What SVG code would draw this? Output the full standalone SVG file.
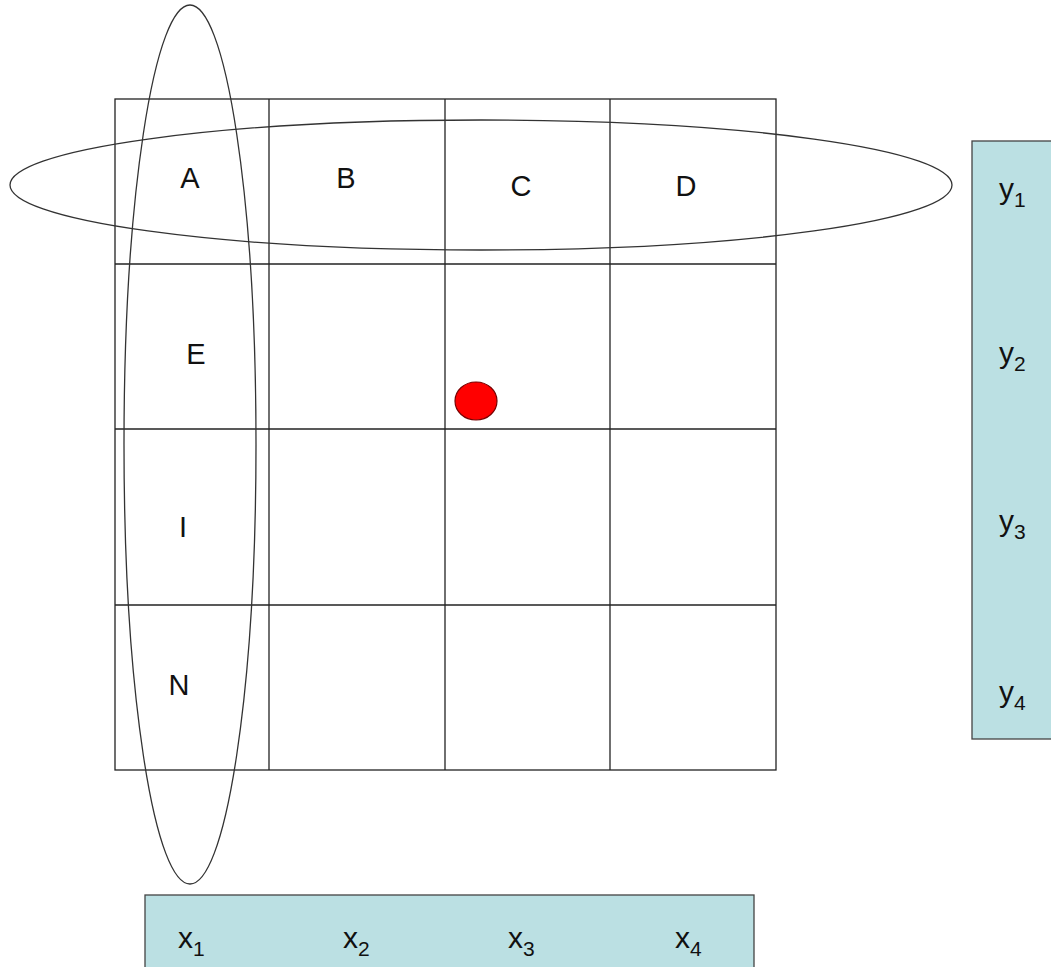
<svg xmlns="http://www.w3.org/2000/svg" width="1051" height="967" viewBox="0 0 1051 967">
<style>
.g{stroke:#222;stroke-width:1.3;fill:none}
.e{stroke:#333;stroke-width:1.3;fill:none}
.t{font-family:"Liberation Sans",Arial,sans-serif;font-size:29px;fill:#111}
.v{font-size:30px}
.s{font-size:21px}
.box{fill:#bbe0e3;stroke:#444;stroke-width:1.3}
</style>
<rect width="1051" height="967" fill="#fff"/>
<g id="grid">
<rect class="g" x="115" y="99" width="661" height="671"/>
<line class="g" x1="269" y1="99" x2="269" y2="770"/>
<line class="g" x1="445" y1="99" x2="445" y2="770"/>
<line class="g" x1="610" y1="99" x2="610" y2="770"/>
<line class="g" x1="115" y1="264" x2="776" y2="264"/>
<line class="g" x1="115" y1="429" x2="776" y2="429"/>
<line class="g" x1="115" y1="605" x2="776" y2="605"/>
</g>
<g id="labels">
<text class="t" x="190" y="188" text-anchor="middle">A</text>
<text class="t" x="346" y="188" text-anchor="middle">B</text>
<text class="t" x="521" y="196" text-anchor="middle">C</text>
<text class="t" x="686" y="196" text-anchor="middle">D</text>
<text class="t" x="196" y="364" text-anchor="middle">E</text>
<text class="t" x="183" y="537" text-anchor="middle">I</text>
<text class="t" x="179" y="695" text-anchor="middle">N</text>
</g>
<g id="dot"><ellipse cx="476" cy="401" rx="21" ry="19" fill="#f00" stroke="#700" stroke-width="1.2"/></g>
<g id="row-ellipse"><ellipse class="e" cx="481" cy="185" rx="471" ry="65"/></g>
<g id="col-ellipse"><ellipse class="e" cx="190" cy="444.5" rx="66" ry="439.5"/></g>
<g id="ybox">
<rect class="box" x="972" y="141" width="85" height="598"/>
<text class="t v" x="999" y="199">y<tspan class="s" dy="8">1</tspan></text>
<text class="t v" x="999" y="363">y<tspan class="s" dy="8">2</tspan></text>
<text class="t v" x="999" y="531">y<tspan class="s" dy="8">3</tspan></text>
<text class="t v" x="999" y="702">y<tspan class="s" dy="8">4</tspan></text>
</g>
<g id="xbox">
<rect class="box" x="145" y="895" width="609" height="78"/>
<text class="t v" x="178" y="948">x<tspan class="s" dy="8">1</tspan></text>
<text class="t v" x="343" y="948">x<tspan class="s" dy="8">2</tspan></text>
<text class="t v" x="508" y="948">x<tspan class="s" dy="8">3</tspan></text>
<text class="t v" x="675" y="948">x<tspan class="s" dy="8">4</tspan></text>
</g>
</svg>
